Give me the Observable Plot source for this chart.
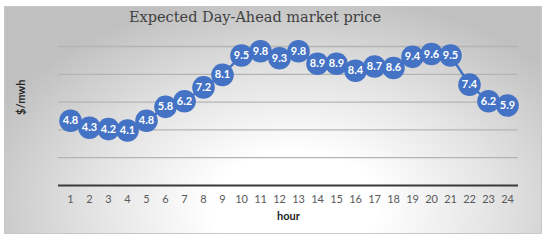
<!DOCTYPE html>
<html>
<head>
<meta charset="utf-8">
<script src="https://cdn.jsdelivr.net/npm/d3@7"></script>
<script src="https://cdn.jsdelivr.net/npm/@observablehq/plot@0.6"></script>
<style>
  html, body { margin: 0; padding: 0; background: #fff; }
  #wrap { position: relative; width: 550px; height: 241px; overflow: hidden; }
  #frame {
    position: absolute; left: 4px; top: 6px; width: 538px; height: 228px;
    border: 1px solid #c8c8c8; box-sizing: border-box;
    background: radial-gradient(ellipse 62% 95% at 54% 88%, #ffffff 25%, #e4e4e4 60%, #c0c0c0 100%);
  }
  #title {
    position: absolute; left: 0; width: 510px; top: 9px; text-align: center;
    font-family: "DejaVu Serif", serif; font-size: 14.5px; color: #404040;
  }
  #chart { position: absolute; left: 0; top: 0; }
</style>
</head>
<body>
<div id="wrap">
  <div id="frame"></div>
  <div id="chart"></div>
  <div id="title">Expected Day-Ahead market price</div>
</div>
<script>
const hours = d3.range(1, 25);
const prices = [4.8, 4.3, 4.2, 4.1, 4.8, 5.8, 6.2, 7.2, 8.1, 9.5, 9.8, 9.3, 9.8, 8.9, 8.9, 8.4, 8.7, 8.6, 9.4, 9.6, 9.5, 7.4, 6.2, 5.9];
const gridValues = [2, 4, 6, 8, 10];
const xTitle = "hour";
const yTitle = "$/mwh";

const data = hours.map((h, i) => ({hour: h, price: prices[i]}));
const blue = "#4472C4";
const font = "Lato, 'Open Sans', sans-serif";

const chart = Plot.plot({
  width: 550,
  height: 241,
  marginLeft: 58,
  marginRight: 32,
  marginTop: 46,
  marginBottom: 56,
  style: {background: "transparent", overflow: "visible"},
  x: {type: "point", domain: hours, padding: 0.5, label: null},
  y: {domain: [0, 10], label: null},
  marks: [
    Plot.ruleY(gridValues, {stroke: "#b4b4b4", strokeWidth: 1.3}),
    Plot.ruleY([0], {stroke: "#3a3a3a", strokeWidth: 2.2}),
    Plot.axisX({tickSize: 0, tickPadding: 10, fontSize: 11, fill: "#595959", label: null, fontFamily: font}),
    Plot.axisY({ticks: [], label: null}),
    Plot.line(data, {x: "hour", y: "price", dy: 2, stroke: blue, strokeWidth: 2.5}),
    Plot.dot(data, {x: "hour", y: "price", dy: 2, r: 11.3, fill: blue, stroke: "none"}),
    Plot.text(data, {x: "hour", y: "price", dy: 2, text: d => d.price.toFixed(1), fill: "white",
      fontWeight: "bold", fontSize: 11, fontFamily: font}),
    Plot.text([xTitle], {frameAnchor: "bottom", dy: 34, fontWeight: "bold", fontSize: 11,
      fill: "#262626", fontFamily: font}),
    Plot.text([yTitle], {frameAnchor: "left", dx: -37, dy: -1, rotate: -90, fontWeight: "bold", fontSize: 11,
      fill: "#262626", fontFamily: font})
  ]
});
document.getElementById("chart").appendChild(chart);
</script>
</body>
</html>
